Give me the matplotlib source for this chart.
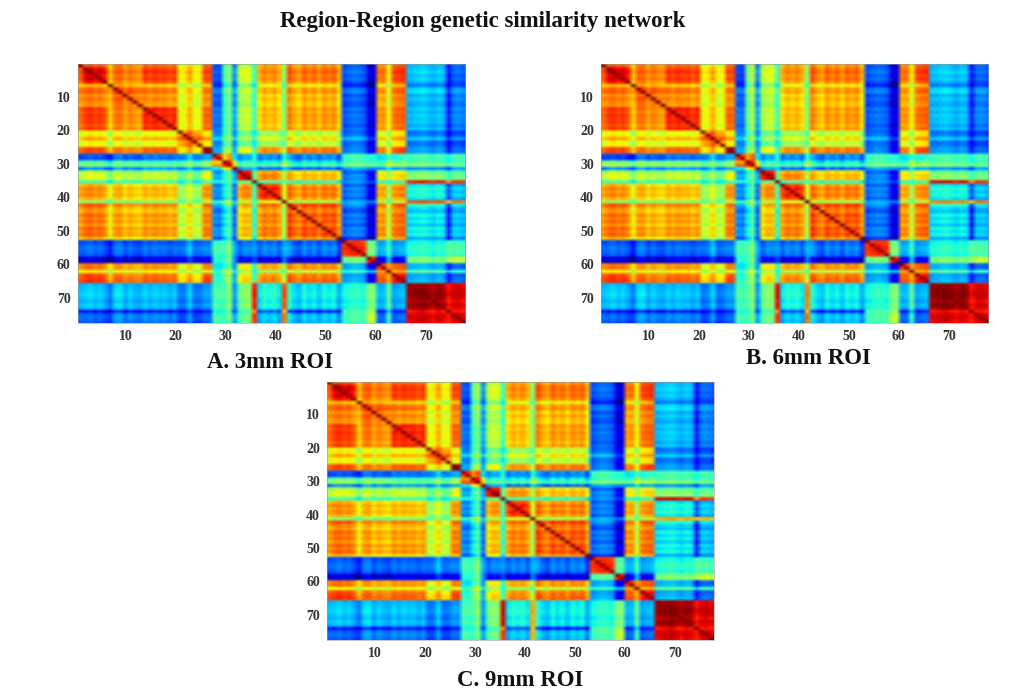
import numpy as np
import matplotlib
matplotlib.use("Agg")
import matplotlib.pyplot as plt

plt.rcParams['font.family'] = ['Liberation Serif', 'DejaVu Serif']

# last region index (1-based) of each band of similar regions
band_ends = [1, 6, 13, 20, 25, 27, 29, 31, 32, 35, 36, 41, 42, 53, 58, 60, 62, 63, 66, 74, 75, 78]

# upper triangle of the band-to-band similarity (jet scale 0..1)
upper_a = [
 [.95,.80,.76,.78,.62,.78,.22,.45,.25,.55,.40,.72,.55,.74,.21,.08,.76,.60,.80,.30,.15,.22],
 [.89,.77,.82,.66,.80,.22,.45,.28,.58,.42,.73,.50,.77,.21,.08,.78,.60,.82,.30,.13,.20],
 [.80,.75,.64,.75,.25,.45,.30,.55,.42,.69,.50,.72,.22,.09,.74,.58,.77,.31,.15,.25],
 [.84,.64,.77,.25,.42,.30,.55,.42,.68,.50,.72,.21,.09,.74,.60,.77,.29,.14,.23],
 [.78,.66,.30,.45,.30,.48,.38,.55,.48,.60,.25,.13,.64,.52,.67,.25,.13,.20],
 [.92,.30,.50,.30,.60,.40,.72,.55,.75,.23,.10,.76,.58,.80,.25,.13,.20],
 [.90,.72,.40,.30,.42,.28,.42,.28,.45,.43,.38,.42,.40,.45,.40,.45],
 [.85,.65,.40,.42,.38,.55,.38,.45,.45,.42,.55,.48,.45,.40,.43],
 [.90,.30,.35,.25,.35,.25,.32,.30,.30,.35,.30,.28,.20,.30],
 [.88,.45,.73,.55,.68,.23,.12,.64,.50,.64,.48,.40,.45],
 [.95,.42,.45,.40,.27,.20,.40,.35,.40,.88,.75,.85],
 [.84,.60,.75,.23,.10,.72,.50,.73,.36,.20,.30],
 [.95,.55,.30,.25,.55,.42,.55,.82,.68,.78],
 [.80,.23,.10,.75,.55,.77,.34,.15,.30],
 [.86,.50,.30,.38,.27,.38,.45,.42],
 [.90,.13,.30,.10,.50,.55,.58],
 [.85,.72,.80,.30,.15,.22],
 [.95,.68,.42,.30,.38],
 [.86,.27,.13,.20],
 [.95,.88,.90],
 [.98,.87],
 [.90],
]

changes_b = [(7,0,.50),(7,1,.50),(7,2,.50),(7,3,.48),(6,7,.78),(12,19,.76),(10,19,.90),(0,17,.62),(1,6,.20),(19,19,.96)]
changes_c = [(7,1,.48),(7,2,.48),(5,5,.95),(6,7,.80),(12,19,.72),(12,21,.70),(10,19,.92),(14,15,.46),(4,5,.62),(9,11,.72)]

# finer stripes of single regions
stripes = [0,.01,.03,0,.02,-.02,-.08,.02,.03,-.03,.01,-.02,-.03,.03,0,.03,.01,.02,-.01,.02,
           -.03,-.01,.07,-.03,-.02,.02,.02,-.02,-.03,-.02,.06,-.02,-.02,.03,.02,0,-.02,.03,0,.03,
           -.02,0,.05,-.01,-.04,.03,-.01,.02,-.03,.03,0,.03,-.06,-.02,0,.02,.01,-.01,-.01,-.01,
           -.01,0,.03,0,.02,.03,0,.01,.02,.03,.01,-.01,.02,0,0,.01,.02,0]

diagonal_value = 1.0
tick_values = [10, 20, 30, 40, 50, 60, 70]
title_text = "Region-Region genetic similarity network"
panel_names = ["A. 3mm ROI", "B. 6mm ROI", "C. 9mm ROI"]


def build(changes):
    n = len(band_ends)
    table = np.zeros((n, n))
    for i, row in enumerate(upper_a):
        for k, v in enumerate(row):
            table[i, i + k] = table[i + k, i] = v
    for i, j, v in changes:
        table[i, j] = table[j, i] = v
    band_of = np.repeat(np.arange(n), np.diff([0] + band_ends))
    m = table[np.ix_(band_of, band_of)]
    s = np.array(stripes)
    m = m + s[:, None] + s[None, :]
    np.fill_diagonal(m, diagonal_value)
    return np.clip(m, 0, 1)


W, H = 1026, 690
fig = plt.figure(figsize=(W / 100, H / 100), dpi=100, facecolor='white')
jet = plt.get_cmap('jet')

# pixel boxes: left, right, top, bottom
boxes = [(77.5, 465, 64, 322.7), (600.7, 988, 64, 322.7), (327, 714, 381.7, 640)]
captions = [(270, 362), (808, 359), (520, 680)]
for box, cap, name, ch in zip(boxes, captions, panel_names, [[], changes_b, changes_c]):
    l, r, t, b = box
    ax = fig.add_axes([l / W, 1 - b / H, (r - l) / W, (b - t) / H])
    # colours are blended after the colour map, which gives the soft look of the scan
    ax.imshow(jet(build(ch)), aspect='auto', interpolation='bilinear',
              extent=(0.35, 77.85, 77.5, 0.25))
    ax.set_xticks(tick_values)
    ax.set_yticks(tick_values)
    ax.tick_params(length=0, labelsize=10, colors='#333333', pad=5)
    for lab in ax.get_xticklabels() + ax.get_yticklabels():
        lab.set_fontweight('bold')
    for sp in ax.spines.values():
        sp.set_linewidth(0.4)
        sp.set_color('#999999')
    fig.text(cap[0] / W, 1 - cap[1] / H, name, ha='center', va='center', fontsize=16.4,
             fontweight='bold', color='#111111')

fig.text(483 / W, 1 - 21 / H, title_text, ha='center', va='center', fontsize=16.5,
         fontweight='bold', color='#111111')
fig.savefig('out.png', dpi=100)
